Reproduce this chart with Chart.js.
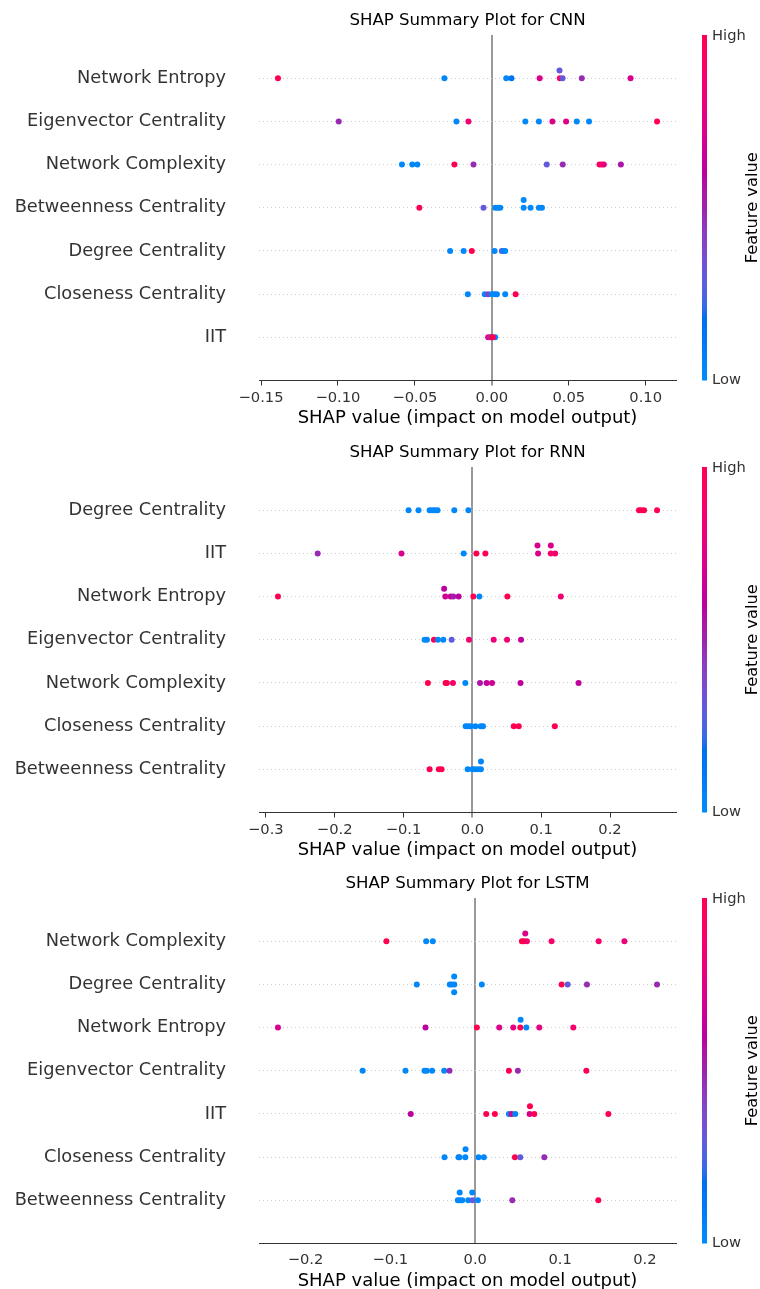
<!DOCTYPE html>
<html>
<head>
<meta charset="utf-8">
<script src="https://cdn.jsdelivr.net/npm/chart.js@4/dist/chart.umd.min.js"></script>
<style>
  html, body { margin: 0; padding: 0; background: #fff; width: 760px; height: 1289px; overflow: hidden; }
  canvas { position: absolute; left: 0; }
</style>
</head>
<body>
<canvas id="c1" width="760" height="432" style="top:0px"></canvas>
<canvas id="c2" width="760" height="432" style="top:432px"></canvas>
<canvas id="c3" width="760" height="432" style="top:863px"></canvas>
<script>
// ---------------- DATA ----------------
// Feature names, top row first
const cnnFeatures = ['Network Entropy', 'Eigenvector Centrality', 'Network Complexity', 'Betweenness Centrality', 'Degree Centrality', 'Closeness Centrality', 'IIT'];
const rnnFeatures = ['Degree Centrality', 'IIT', 'Network Entropy', 'Eigenvector Centrality', 'Network Complexity', 'Closeness Centrality', 'Betweenness Centrality'];
const lstmFeatures = ['Network Complexity', 'Degree Centrality', 'Network Entropy', 'Eigenvector Centrality', 'IIT', 'Closeness Centrality', 'Betweenness Centrality'];

// SHAP values per feature (same order as the feature names)
const cnnShap = [
  [-0.139, -0.0308, 0.0094, 0.0128, 0.0311, 0.0442, 0.0440, 0.0460, 0.0585, 0.0902],
  [-0.0995, -0.0230, -0.0152, 0.0218, 0.0306, 0.0394, 0.0483, 0.0552, 0.0632, 0.1074],
  [-0.0584, -0.0517, -0.0484, -0.0243, -0.0119, 0.0357, 0.0461, 0.0700, 0.0715, 0.0728, 0.0839],
  [-0.0471, -0.0054, 0.0022, 0.0039, 0.0055, 0.0207, 0.0207, 0.0252, 0.0306, 0.0326],
  [-0.0271, -0.0183, -0.0130, 0.0018, 0.0065, 0.0076, 0.0087],
  [-0.0156, -0.0046, -0.0024, 0.0000, 0.0018, 0.0033, 0.0087, 0.0155],
  [-0.0024, -0.0011, 0.0022, 0.0000, 0.0007]
];
// Normalised feature values (0 = low, 1 = high)
const cnnFeat = [
  [1.0, 0.02, 0.02, 0.15, 0.72, 0.9, 0.3, 0.3, 0.48, 0.72],
  [0.48, 0.02, 0.85, 0.02, 0.02, 0.72, 0.75, 0.02, 0.02, 1.0],
  [0.02, 0.02, 0.02, 1.0, 0.48, 0.3, 0.48, 0.88, 0.95, 0.78, 0.55],
  [1.0, 0.3, 0.02, 0.02, 0.02, 0.02, 0.02, 0.02, 0.02, 0.02],
  [0.02, 0.02, 1.0, 0.02, 0.33, 0.02, 0.02],
  [0.02, 0.02, 0.42, 0.02, 0.02, 0.02, 0.02, 1.0],
  [0.78, 0.45, 0.02, 1.0, 1.0]
];

const rnnShap = [
  [-0.0927, -0.0782, -0.0621, -0.0582, -0.0544, -0.0505, -0.0262, -0.0058, 0.2421, 0.2455, 0.2494, 0.2683],
  [-0.2247, -0.1029, -0.0126, 0.0058, 0.0189, 0.0955, 0.0946, 0.1140, 0.1140, 0.1203],
  [-0.2824, -0.0393, -0.0410, -0.0316, -0.0277, -0.0199, 0.0015, 0.0102, 0.0509, 0.1285],
  [-0.0694, -0.0660, -0.0558, -0.0500, -0.0422, -0.0301, -0.0049, 0.0310, 0.0504, 0.0707],
  [-0.0646, -0.0389, -0.0370, -0.0282, -0.0102, 0.0111, 0.0208, 0.0286, 0.0699, 0.1543],
  [-0.0098, -0.0064, -0.0029, 0.0044, 0.0121, 0.0155, 0.0601, 0.0674, 0.1198],
  [-0.0621, -0.0486, -0.0447, -0.0068, 0.0000, 0.0038, 0.0082, 0.0124, 0.0125]
];
const rnnFeat = [
  [0.02, 0.02, 0.02, 0.02, 0.02, 0.02, 0.02, 0.02, 1.0, 1.0, 1.0, 1.0],
  [0.48, 0.72, 0.02, 1.0, 1.0, 0.72, 0.72, 0.88, 0.72, 0.88],
  [1.0, 0.68, 0.6, 0.68, 0.52, 0.6, 1.0, 0.02, 1.0, 0.85],
  [0.02, 0.02, 1.0, 0.02, 0.02, 0.3, 0.85, 0.85, 0.85, 0.62],
  [1.0, 1.0, 1.0, 0.9, 0.02, 0.55, 0.62, 0.68, 0.62, 0.62],
  [0.02, 0.02, 0.02, 0.02, 0.02, 0.02, 1.0, 1.0, 1.0],
  [1.0, 1.0, 1.0, 0.02, 0.02, 0.02, 0.02, 0.02, 0.02]
];

const lstmShap = [
  [-0.1047, -0.0578, -0.0500, 0.0550, 0.0574, 0.0590, 0.0609, 0.0900, 0.1455, 0.1758],
  [-0.0689, -0.0300, -0.0276, -0.0246, -0.0248, -0.0248, 0.0078, 0.1018, 0.1089, 0.1317, 0.2143],
  [-0.2325, -0.0586, 0.0019, 0.0283, 0.0448, 0.0531, 0.0535, 0.0602, 0.0755, 0.1156],
  [-0.1326, -0.0822, -0.0598, -0.0571, -0.0508, -0.0366, -0.0303, 0.0397, 0.0503, 0.1310],
  [-0.0760, 0.0130, 0.0232, 0.0397, 0.0430, 0.0472, 0.0641, 0.0645, 0.0696, 0.1569],
  [-0.0362, -0.0197, -0.0185, -0.0117, -0.0114, 0.0039, 0.0102, 0.0468, 0.0531, 0.0814],
  [-0.0205, -0.0185, -0.0183, -0.0153, -0.0083, -0.0032, -0.0035, 0.0031, 0.0437, 0.1451]
];
const lstmFeat = [
  [1.0, 0.02, 0.02, 1.0, 1.0, 0.72, 0.88, 0.88, 0.88, 0.82],
  [0.02, 0.02, 0.02, 0.02, 0.02, 0.02, 0.02, 1.0, 0.3, 0.48, 0.48],
  [0.72, 0.6, 1.0, 0.72, 0.78, 1.0, 0.02, 0.02, 0.78, 0.88],
  [0.02, 0.02, 0.02, 0.02, 0.02, 0.02, 0.48, 1.0, 0.48, 1.0],
  [0.6, 1.0, 1.0, 0.02, 0.72, 0.02, 0.72, 1.0, 1.0, 1.0],
  [0.02, 0.02, 0.02, 0.02, 0.02, 0.02, 0.02, 1.0, 0.3, 0.48],
  [0.02, 0.02, 0.02, 0.02, 0.02, 0.3, 0.02, 0.02, 0.48, 1.0]
];

// Axis ticks
const cnnTicks = [-0.15, -0.10, -0.05, 0.00, 0.05, 0.10];
const cnnTickLabels = ['\u22120.15', '\u22120.10', '\u22120.05', '0.00', '0.05', '0.10'];
const rnnTicks = [-0.3, -0.2, -0.1, 0.0, 0.1, 0.2];
const rnnTickLabels = ['\u22120.3', '\u22120.2', '\u22120.1', '0.0', '0.1', '0.2'];
const lstmTicks = [-0.2, -0.1, 0.0, 0.1, 0.2];
const lstmTickLabels = ['\u22120.2', '\u22120.1', '0.0', '0.1', '0.2'];

const titles = ['SHAP Summary Plot for CNN', 'SHAP Summary Plot for RNN', 'SHAP Summary Plot for LSTM'];
const xLabel = 'SHAP value (impact on model output)';
const cbarLabels = ['High', 'Low', 'Feature value'];

// ---------------- HELPERS ----------------
const FONT = "'DejaVu Sans', 'Liberation Sans', sans-serif";

// SHAP red_blue colormap (LCH interpolation)
function shapColor(t) {
  t = Math.min(1, Math.max(0, t));
  const L = t < 0.5 ? 54 - 28 * t : 40 + 28 * (t - 0.5);
  const C = 70 + 20 * t;
  const H = 4.6588 + t * (0.35470565 + 2 * Math.PI - 4.6588);
  const a = C * Math.cos(H), b = C * Math.sin(H);
  const fy = (L + 16) / 116, fx = fy + a / 500, fz = fy - b / 200;
  const finv = v => (v * v * v > 0.008856 ? v * v * v : (v - 16 / 116) / 7.787);
  const X = 0.95047 * finv(fx), Y = finv(fy), Z = 1.08883 * finv(fz);
  const r = 3.2406 * X - 1.5372 * Y - 0.4986 * Z;
  const g = -0.9689 * X + 1.8758 * Y + 0.0415 * Z;
  const bl = 0.0557 * X - 0.2040 * Y + 1.0570 * Z;
  const gam = v => {
    v = Math.min(1, Math.max(0, v));
    v = v > 0.0031308 ? 1.055 * Math.pow(v, 1 / 2.4) - 0.055 : 12.92 * v;
    return Math.round(255 * Math.min(1, Math.max(0, v)));
  };
  return `rgb(${gam(r)},${gam(g)},${gam(bl)})`;
}

// SHAP beeswarm vertical layering
function beeswarm(vals) {
  const N = vals.length;
  const mn = Math.min(...vals), mx = Math.max(...vals);
  const quant = vals.map(v => Math.round(100 * (v - mn) / (mx - mn + 1e-8)));
  const inds = vals.map((_, i) => i).sort((p, q) => quant[p] - quant[q]);
  let layer = 0, last = -1;
  const ys = new Array(N).fill(0);
  for (const i of inds) {
    if (quant[i] !== last) layer = 0;
    ys[i] = Math.ceil(layer / 2) * ((layer % 2) * 2 - 1);
    layer++;
    last = quant[i];
  }
  const m = Math.max(...ys.map(y => y + 1));
  return ys.map(y => y * 0.9 * (0.4 / m));
}

const colorbarPlugin = {
  id: 'colorbar',
  afterDraw(chart) {
    const ctx = chart.ctx;
    const {top, bottom} = chart.chartArea;
    const x0 = 702, w = 5;
    const grad = ctx.createLinearGradient(0, bottom, 0, top);
    for (let i = 0; i <= 50; i++) grad.addColorStop(i / 50, shapColor(i / 50));
    ctx.save();
    ctx.fillStyle = grad;
    ctx.fillRect(x0, top, w, bottom - top);
    ctx.fillStyle = '#333333';
    ctx.font = `14.7px ${FONT}`;
    ctx.textAlign = 'left';
    ctx.textBaseline = 'middle';
    ctx.fillText(cbarLabels[0], 712, top + 1);
    ctx.fillText(cbarLabels[1], 712, bottom);
    ctx.translate(753, (top + bottom) / 2);
    ctx.rotate(-Math.PI / 2);
    ctx.textAlign = 'center';
    ctx.fillStyle = '#000000';
    ctx.font = `16.3px ${FONT}`;
    ctx.fillText(cbarLabels[2], 0, 0);
    ctx.restore();
  }
};

function makeChart(id, title, features, shap, feat, ticks, tickLabels, showTickMarks) {
  const n = features.length;
  const points = [], colors = [];
  shap.forEach((row, k) => {
    const rowIdx = n - 1 - k;
    const jit = beeswarm(row);
    row.forEach((v, j) => {
      points.push({x: v, y: rowIdx + jit[j]});
      colors.push(shapColor(feat[k][j]));
    });
  });
  const all = shap.flat();
  const mn = Math.min(...all), mx = Math.max(...all);
  const span = mx - mn;
  return new Chart(document.getElementById(id), {
    type: 'scatter',
    data: {
      datasets: [{
        data: points,
        pointBackgroundColor: colors,
        pointBorderWidth: 0,
        pointRadius: 3,
        pointHoverRadius: 3
      }]
    },
    options: {
      responsive: false,
      animation: false,
      events: [],
      layout: {padding: {left: 0, right: 84, top: 0, bottom: 0}},
      plugins: {
        legend: {display: false},
        tooltip: {enabled: false},
        title: {
          display: true, text: title, fullSize: false,
          font: {family: FONT, size: 16.6, weight: 'normal'},
          color: '#000000',
          padding: {top: 10.4, bottom: 4.7}
        }
      },
      scales: {
        x: {
          type: 'linear',
          min: mn - 0.05 * span,
          max: mx + 0.05 * span,
          afterBuildTicks: s => { s.ticks = ticks.map(v => ({value: v})); },
          afterFit: s => { s.height = 51.5; },
          ticks: {
            autoSkip: false, maxRotation: 0,
            padding: showTickMarks ? 4 : 7.5,
            color: '#333333',
            font: {family: FONT, size: 14.7},
            callback: (v, i) => tickLabels[i]
          },
          grid: {
            drawOnChartArea: true,
            drawTicks: showTickMarks,
            tickLength: 5,
            tickWidth: 1,
            tickColor: '#333333',
            color: c => (c.tick && Math.abs(c.tick.value) < 1e-9 ? '#999999' : 'rgba(0,0,0,0)'),
            lineWidth: c => (c.tick && Math.abs(c.tick.value) < 1e-9 ? 2 : 1)
          },
          border: {display: true, color: '#333333', width: 1},
          title: {
            display: true, text: xLabel,
            color: '#000000',
            font: {family: FONT, size: 18},
            padding: {top: 0, bottom: 3.2}
          }
        },
        y: {
          type: 'linear',
          min: -1, max: n,
          afterBuildTicks: s => { s.ticks = features.map((_, i) => ({value: i})); },
          afterFit: s => { s.width = 259; s.paddingTop = 0; s.paddingBottom = 0; },
          ticks: {
            autoSkip: false,
            padding: 33,
            color: '#333333',
            font: {family: FONT, size: 17.8},
            callback: (v, i) => features[n - 1 - i]
          },
          grid: {drawTicks: false, color: '#cccccc', lineWidth: 1},
          border: {display: false, dash: [1, 3]}
        }
      }
    },
    plugins: [colorbarPlugin]
  });
}

makeChart('c1', titles[0], cnnFeatures, cnnShap, cnnFeat, cnnTicks, cnnTickLabels, true);
makeChart('c2', titles[1], rnnFeatures, rnnShap, rnnFeat, rnnTicks, rnnTickLabels, true);
makeChart('c3', titles[2], lstmFeatures, lstmShap, lstmFeat, lstmTicks, lstmTickLabels, false);
</script>
</body>
</html>
